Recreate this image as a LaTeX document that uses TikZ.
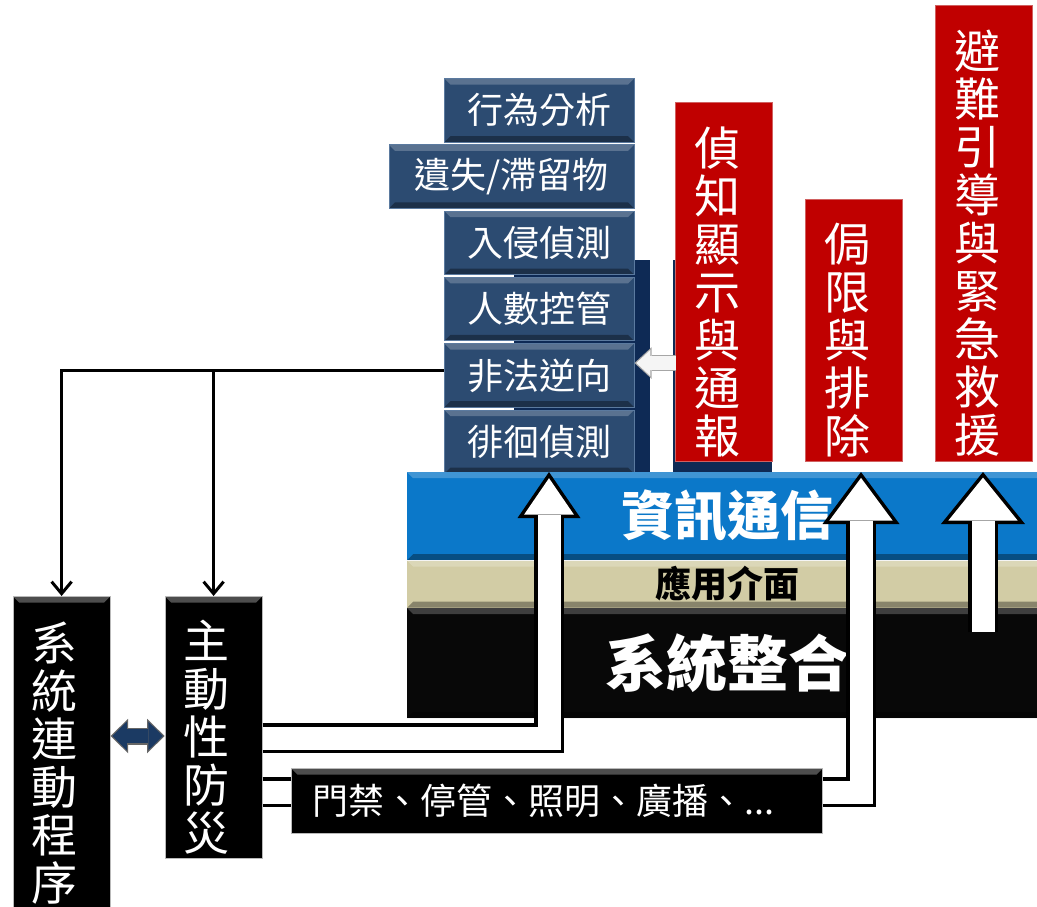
\documentclass[tikz,border=0pt]{standalone}
\usepackage{fontspec}
\setmainfont{Noto Sans CJK TC}
\usepackage{xcolor}
\usepackage{tikz}
\usetikzlibrary{arrows.meta,positioning,calc}

\definecolor{tileblue}{HTML}{2C4B71}
\definecolor{tileedge}{HTML}{5B7A9F}
\definecolor{panelnavy}{HTML}{0E2A55}
\definecolor{alertred}{HTML}{C00000}
\definecolor{alertedge}{HTML}{D06060}
\definecolor{infoblue}{HTML}{0B78C9}
\definecolor{apibeige}{HTML}{D2CCA5}
\definecolor{linknavy}{HTML}{1B3A63}

\newcommand{\colstrut}{\rule{0pt}{58pt}}

\begin{document}
\begin{tikzpicture}[
    x=1pt, y=-1pt,
    every node/.style={inner sep=0pt},
    bevel/.style={path picture={
      \fill[white, opacity=#1] (path picture bounding box.north west) -- (path picture bounding box.north east)
        -- ([shift={(-6pt,-6pt)}]path picture bounding box.north east) -- ([shift={(6pt,-6pt)}]path picture bounding box.north west) -- cycle;
      \fill[black, opacity=0.35] (path picture bounding box.south west) -- (path picture bounding box.south east)
        -- ([shift={(-6pt,6pt)}]path picture bounding box.south east) -- ([shift={(6pt,6pt)}]path picture bounding box.south west) -- cycle;
    }},
    bevel/.default=0.22,
    tile/.style={draw=tileedge, line width=1pt, fill=tileblue, bevel, text=white, minimum width=189.5pt, minimum height=63.5pt, font=\fontsize{36}{40}\selectfont},
    widetile/.style={tile, minimum width=245pt},
    vbox/.style={text width=60pt, inner xsep=18.5pt, align=left, text=white, font=\fontsize{46}{48}\selectfont, execute at begin node=\colstrut},
    redbox/.style={vbox, fill=alertred, draw=alertedge, line width=1.2pt},
    blackbox/.style={vbox, fill=black, draw=gray!55, line width=1pt, bevel=0.3},
    gatebox/.style={fill=black, draw=gray!55, line width=1pt, bevel=0.3, text=white, text width=489pt, inner xsep=21pt, align=left, minimum height=65pt, font=\fontsize{36}{40}\selectfont},
    bar/.style={minimum width=640pt, bevel},
    link/.style={line width=3pt, -{Straight Barb[length=12pt,width=20pt]}},
    bandout/.style={line width=30pt, black},
    bandin/.style={line width=23pt, white}
]
\useasboundingbox (0,0) rectangle (1037,906);
\fill[white] (0,0) rectangle (1037,906);

% panels behind the detection tiles
\fill[panelnavy] (514,260) rectangle (650,472);
\fill[panelnavy] (673,260) rectangle (772,473);

% detection tiles
\node[tile, anchor=north west] (xw) at (444,78) {行為分析};
\node[widetile, below=1.8pt of xw.south east, anchor=north east] (ys) {遺失/滯留物};
\node[tile, below=1.8pt of ys.south east, anchor=north east] (rq) {入侵偵測};
\node[tile, below=1.8pt of rq.south east, anchor=north east] (rs) {人數控管};
\node[tile, below=1.8pt of rs.south east, anchor=north east] (ff) {非法逆向};
\node[tile, below=1.8pt of ff.south east, anchor=north east] (ph) {徘徊偵測};

% response columns
\node[redbox, minimum height=359pt, anchor=south west] (det) at (675,462) {偵\\知\\顯\\示\\與\\通\\報};
\node[redbox, minimum height=262pt, anchor=south west] (lim) at (805,462) {侷\\限\\與\\排\\除};
\node[redbox, minimum height=456pt, anchor=south west] (evac) at (935,462) {避\\難\\引\\導\\與\\緊\\急\\救\\援};

% hollow arrow from the notice column back to the tiles
\draw[line width=16.5pt, gray!70, -{Triangle[length=17pt,width=31.5pt,line width=0pt]}] ([xshift=1pt]det.west |- 0,363) -- (ff.east |- 0,363);
\draw[line width=14.1pt, gray!8, shorten >=1.76pt, -{Triangle[length=14pt,width=26pt,line width=0pt]}] ([xshift=1pt]det.west |- 0,363) -- (ff.east |- 0,363);

% layers
\node[bar, fill=infoblue, text=white, minimum height=88pt, font=\bfseries\fontsize{53}{60}\selectfont, anchor=north west] (info) at (407,472) {資訊通信};
\node[bar, fill=apibeige, minimum height=47pt, font=\bfseries\fontsize{36}{40}\selectfont, below=0pt of info] (api) {應用介面};
\node[bar, fill=black!97, text=white, minimum height=110pt, font=\bfseries\fontsize{61}{68}\selectfont, below=0pt of api] (sysint) {系統整合};

% left side
\node[blackbox, minimum height=314pt, anchor=north west] (sysl) at (12.6,596) {系\\統\\連\\動\\程\\序};
\node[blackbox, minimum height=262pt, anchor=north west] (zhu) at (164.6,596) {主\\動\\性\\防\\災};
\node[gatebox, anchor=north west] (men) at (291,768) {門禁、停管、照明、廣播、...};

\coordinate (ffL) at ([yshift=5pt]ff.west);
\draw[link] (ffL) -| (sysl.north);
\draw[link] (zhu.north |- ffL) -- (zhu.north);

% two-way link
\draw[line width=17pt, gray!80!black, {Triangle[length=17.5pt,width=34.5pt,line width=0pt]}-{Triangle[length=17.5pt,width=34.5pt,line width=0pt]}] (sysl.east |- 0,736) -- (zhu.west |- 0,736);
\draw[line width=14.6pt, linknavy, shorten <=1.7pt, shorten >=1.7pt, {Triangle[length=14.6pt,width=28.8pt,line width=0pt]}-{Triangle[length=14.6pt,width=28.8pt,line width=0pt]}] (sysl.east |- 0,736) -- (zhu.west |- 0,736);

% hollow up arrows
\coordinate (t1) at (549,472);
\coordinate (t2) at (861,472);
\coordinate (t3) at (983,472);
\coordinate (s3) at (983,632);

\draw[bandout, -{Triangle[length=46pt,width=63pt,line width=0pt]}] (zhu.east |- 0,738) -| (t1);
\draw[bandin, shorten >=6.2pt, -{Triangle[length=36.3pt,width=49.7pt,line width=0pt]}] (zhu.east |- 0,738) -| (t1);

\draw[bandout] (zhu.east |- 0,792) -- (men.west |- 0,792);
\draw[bandin] (zhu.east |- 0,792) -- (men.west |- 0,792);

\draw[bandout, -{Triangle[length=52pt,width=77pt,line width=0pt]}] (men.east |- 0,792) -| (t2);
\draw[bandin, shorten >=5.9pt, -{Triangle[length=42.6pt,width=63.1pt,line width=0pt]}] (men.east |- 0,792) -| (t2);

\draw[bandout, -{Triangle[length=52pt,width=84pt,line width=0pt]}] (s3) -- (t3);
\draw[bandin, shorten >=5.6pt, -{Triangle[length=42.9pt,width=69.3pt,line width=0pt]}] (s3) -- (t3);
\end{tikzpicture}
\end{document}
